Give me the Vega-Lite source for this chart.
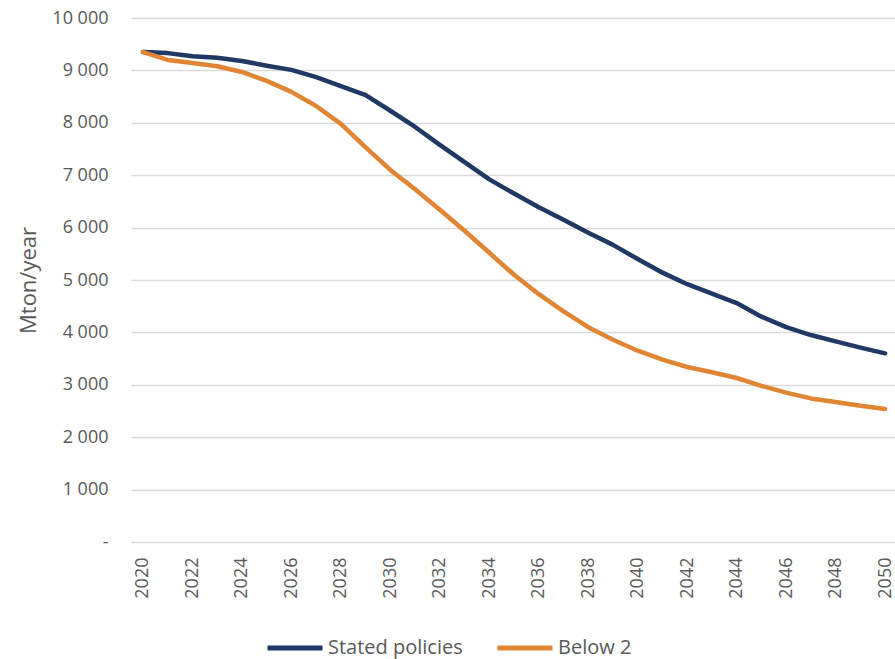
{
  "$schema": "https://vega.github.io/schema/vega-lite/v6.json",
  "width": 764,
  "height": 524,
  "autosize": {"type": "none"},
  "padding": {"left": 131, "top": 18, "right": 0, "bottom": 117},
  "background": "white",
  "config": {"view": {"stroke": null}, "font": "Open Sans"},
  "datasets": {
    "d": [
      {"year": 2020, "series": "Stated policies", "value": 9350},
      {"year": 2021, "series": "Stated policies", "value": 9330},
      {"year": 2022, "series": "Stated policies", "value": 9270},
      {"year": 2023, "series": "Stated policies", "value": 9240},
      {"year": 2024, "series": "Stated policies", "value": 9180},
      {"year": 2025, "series": "Stated policies", "value": 9090},
      {"year": 2026, "series": "Stated policies", "value": 9010},
      {"year": 2027, "series": "Stated policies", "value": 8870},
      {"year": 2028, "series": "Stated policies", "value": 8700},
      {"year": 2029, "series": "Stated policies", "value": 8530},
      {"year": 2030, "series": "Stated policies", "value": 8230},
      {"year": 2031, "series": "Stated policies", "value": 7920},
      {"year": 2032, "series": "Stated policies", "value": 7580},
      {"year": 2033, "series": "Stated policies", "value": 7250},
      {"year": 2034, "series": "Stated policies", "value": 6920},
      {"year": 2035, "series": "Stated policies", "value": 6650},
      {"year": 2036, "series": "Stated policies", "value": 6390},
      {"year": 2037, "series": "Stated policies", "value": 6150},
      {"year": 2038, "series": "Stated policies", "value": 5900},
      {"year": 2039, "series": "Stated policies", "value": 5670},
      {"year": 2040, "series": "Stated policies", "value": 5400},
      {"year": 2041, "series": "Stated policies", "value": 5140},
      {"year": 2042, "series": "Stated policies", "value": 4920},
      {"year": 2043, "series": "Stated policies", "value": 4740},
      {"year": 2044, "series": "Stated policies", "value": 4560},
      {"year": 2045, "series": "Stated policies", "value": 4300},
      {"year": 2046, "series": "Stated policies", "value": 4100},
      {"year": 2047, "series": "Stated policies", "value": 3950},
      {"year": 2048, "series": "Stated policies", "value": 3830},
      {"year": 2049, "series": "Stated policies", "value": 3710},
      {"year": 2050, "series": "Stated policies", "value": 3600},
      {"year": 2020, "series": "Below 2", "value": 9350},
      {"year": 2021, "series": "Below 2", "value": 9200},
      {"year": 2022, "series": "Below 2", "value": 9140},
      {"year": 2023, "series": "Below 2", "value": 9080},
      {"year": 2024, "series": "Below 2", "value": 8970},
      {"year": 2025, "series": "Below 2", "value": 8800},
      {"year": 2026, "series": "Below 2", "value": 8590},
      {"year": 2027, "series": "Below 2", "value": 8320},
      {"year": 2028, "series": "Below 2", "value": 7980},
      {"year": 2029, "series": "Below 2", "value": 7530},
      {"year": 2030, "series": "Below 2", "value": 7100},
      {"year": 2031, "series": "Below 2", "value": 6730},
      {"year": 2032, "series": "Below 2", "value": 6340},
      {"year": 2033, "series": "Below 2", "value": 5940},
      {"year": 2034, "series": "Below 2", "value": 5520},
      {"year": 2035, "series": "Below 2", "value": 5100},
      {"year": 2036, "series": "Below 2", "value": 4730},
      {"year": 2037, "series": "Below 2", "value": 4400},
      {"year": 2038, "series": "Below 2", "value": 4100},
      {"year": 2039, "series": "Below 2", "value": 3860},
      {"year": 2040, "series": "Below 2", "value": 3650},
      {"year": 2041, "series": "Below 2", "value": 3480},
      {"year": 2042, "series": "Below 2", "value": 3340},
      {"year": 2043, "series": "Below 2", "value": 3240},
      {"year": 2044, "series": "Below 2", "value": 3130},
      {"year": 2045, "series": "Below 2", "value": 2980},
      {"year": 2046, "series": "Below 2", "value": 2850},
      {"year": 2047, "series": "Below 2", "value": 2740},
      {"year": 2048, "series": "Below 2", "value": 2670},
      {"year": 2049, "series": "Below 2", "value": 2600},
      {"year": 2050, "series": "Below 2", "value": 2540}
    ]
  },
  "data": {"name": "d"},
  "mark": {"type": "line", "strokeWidth": 4.5, "strokeCap": "round", "strokeJoin": "round"},
  "encoding": {
    "x": {
      "field": "year",
      "type": "quantitative",
      "scale": {"domain": [2019.515, 2050.4], "nice": false, "zero": false},
      "axis": {
        "values": [2020, 2022, 2024, 2026, 2028, 2030, 2032, 2034, 2036, 2038, 2040, 2042, 2044, 2046, 2048, 2050],
        "format": "d",
        "labelAngle": -90,
        "labelFontSize": 18,
        "labelColor": "#595959",
        "labelPadding": 15,
        "grid": false,
        "domain": false,
        "ticks": false,
        "title": null
      }
    },
    "y": {
      "field": "value",
      "type": "quantitative",
      "scale": {"domain": [0, 10000], "nice": false},
      "axis": {
        "values": [0, 1000, 2000, 3000, 4000, 5000, 6000, 7000, 8000, 9000, 10000],
        "labelExpr": "datum.value == 0 ? '-' : replace(format(datum.value, ','), ',', ' ')",
        "labelFontSize": 18,
        "labelColor": "#595959",
        "labelPadding": 23,
        "grid": true,
        "gridColor": "#d9d9d9",
        "gridWidth": 1.5,
        "domain": false,
        "ticks": false,
        "title": "Mton/year",
        "titleFontSize": 22,
        "titleFontWeight": "normal",
        "titleColor": "#595959",
        "titlePadding": 11
      }
    },
    "color": {
      "field": "series",
      "type": "nominal",
      "scale": {"domain": ["Stated policies", "Below 2"], "range": ["#203864", "#E08534"]},
      "legend": {
        "orient": "none",
        "legendX": 134,
        "legendY": 600,
        "direction": "horizontal",
        "title": null,
        "symbolType": "stroke",
        "symbolSize": 3025,
        "symbolStrokeWidth": 5,
        "labelFontSize": 20,
        "labelColor": "#595959",
        "labelOffset": 3,
        "columnPadding": 24
      }
    }
  }
}
